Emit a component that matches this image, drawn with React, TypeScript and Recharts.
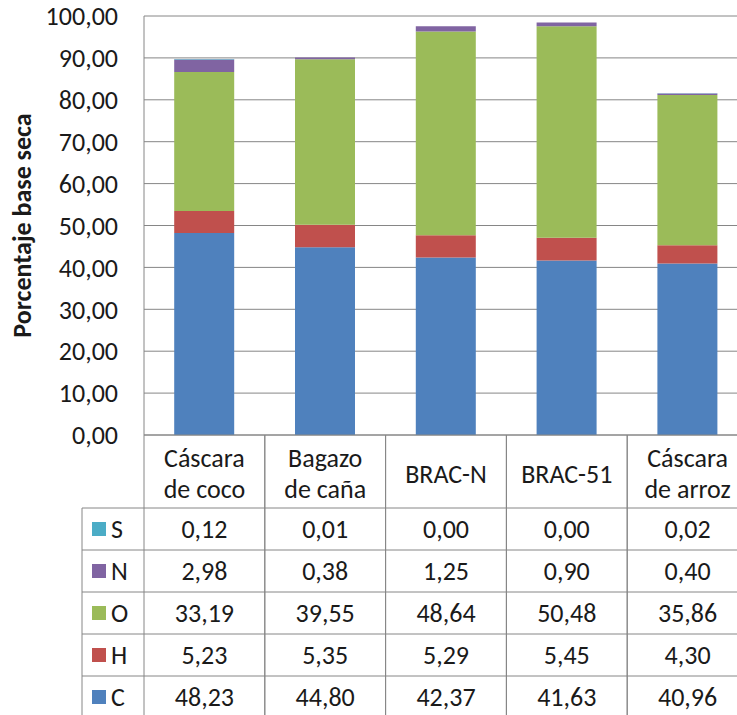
import { BarChart, Bar, XAxis, YAxis, CartesianGrid, Label } from "recharts";

const categories = ["Cáscara de coco", "Bagazo de caña", "BRAC-N", "BRAC-51", "Cáscara de arroz"];

const carbon = [48.23, 44.8, 42.37, 41.63, 40.96];
const hydrogen = [5.23, 5.35, 5.29, 5.45, 4.3];
const oxygen = [33.19, 39.55, 48.64, 50.48, 35.86];
const nitrogen = [2.98, 0.38, 1.25, 0.9, 0.4];
const sulfur = [0.12, 0.01, 0.0, 0.0, 0.02];

const yTicks = [0, 10, 20, 30, 40, 50, 60, 70, 80, 90, 100];

// stack order bottom -> top
const series = [
  { key: "C", values: carbon, color: "#4F81BD" },
  { key: "H", values: hydrogen, color: "#C0504D" },
  { key: "O", values: oxygen, color: "#9BBB59" },
  { key: "N", values: nitrogen, color: "#8064A2" },
  { key: "S", values: sulfur, color: "#4BACC6" },
];

const data = categories.map((name, i) => {
  const row: Record<string, string | number> = { name };
  series.forEach((s) => (row[s.key] = s.values[i]));
  return row;
});

const FONT = "Carlito, Lato, sans-serif";
const FS = 26;
const TEXT = "#1a1a1a";
const LINE = "#868686";

const CHART_W = 760;
const CHART_H = 722;
const PLOT_LEFT = 144;
const PLOT_RIGHT = 12;
const PLOT_TOP = 16;
const PLOT_BOTTOM = 435;
const BAND = (CHART_W - PLOT_LEFT - PLOT_RIGHT) / categories.length;
const HEADER_H = 73;
const ROW_H = 42;
const LEGEND_W = 62;

const fmt = (v: number) => v.toFixed(2).replace(".", ",");

// table rows are listed top-down, the reverse of the stack
const tableRows = [...series].reverse();

function TableColumn(props: any) {
  const { x, index, payload } = props;
  const left = x - BAND / 2;
  const right = x + BAND / 2;
  const tableTop = PLOT_BOTTOM;
  const rowsTop = tableTop + HEADER_H;
  const bottom = rowsTop + ROW_H * tableRows.length + 4;
  const name: string = payload.value;
  const sp = name.indexOf(" ");
  const lines = sp > 0 ? [name.slice(0, sp), name.slice(sp + 1)] : [name];
  const headerMid = tableTop + HEADER_H / 2 + 2;

  return (
    <g fontFamily={FONT} fontSize={FS} fill={TEXT}>
      <line x1={left} x2={left} y1={tableTop} y2={bottom} stroke={LINE} />
      <line x1={right} x2={right} y1={tableTop} y2={bottom} stroke={LINE} />
      {lines.map((ln, k) => (
        <text
          key={k}
          x={x}
          y={headerMid + (k - (lines.length - 1) / 2) * 31}
          textAnchor="middle"
          dominantBaseline="central"
        >
          {ln}
        </text>
      ))}
      {tableRows.map((s, r) => {
        const top = rowsTop + r * ROW_H;
        return (
          <g key={s.key}>
            <line x1={left} x2={right} y1={top} y2={top} stroke={LINE} />
            <text x={x} y={top + ROW_H / 2} textAnchor="middle" dominantBaseline="central">
              {fmt(s.values[index])}
            </text>
          </g>
        );
      })}
      {index === 0 && (
        <g>
          <line x1={left - LEGEND_W} x2={left - LEGEND_W} y1={rowsTop} y2={bottom} stroke={LINE} />
          {tableRows.map((s, r) => {
            const top = rowsTop + r * ROW_H;
            return (
              <g key={s.key}>
                <line x1={left - LEGEND_W} x2={left} y1={top} y2={top} stroke={LINE} />
                <rect x={left - LEGEND_W + 10} y={top + ROW_H / 2 - 7} width={14} height={14} fill={s.color} />
                <text x={left - LEGEND_W + 29} y={top + ROW_H / 2} dominantBaseline="central">
                  {s.key}
                </text>
              </g>
            );
          })}
        </g>
      )}
    </g>
  );
}

function YTitle() {
  const cx = 22;
  const cy = (PLOT_TOP + PLOT_BOTTOM) / 2;
  return (
    <text
      x={cx}
      y={cy}
      transform={`rotate(-90 ${cx} ${cy})`}
      textAnchor="middle"
      dominantBaseline="central"
      fontFamily={FONT}
      fontSize={FS}
      fontWeight="bold"
      fill={TEXT}
    >
      Porcentaje base seca
    </text>
  );
}

export default function App() {
  return (
    <div
      style={{
        position: "fixed",
        left: 0,
        top: 0,
        width: 737,
        height: 715,
        overflow: "hidden",
        background: "#fff",
      }}
    >
      <BarChart
        width={CHART_W}
        height={CHART_H}
        data={data}
        margin={{ top: PLOT_TOP, right: PLOT_RIGHT, left: 0, bottom: 0 }}
        barCategoryGap="25%"
      >
        <CartesianGrid vertical={false} stroke={LINE} strokeWidth={1} />
        <XAxis
          dataKey="name"
          interval={0}
          height={CHART_H - PLOT_BOTTOM}
          axisLine={{ stroke: LINE }}
          tickLine={false}
          tick={(p: any) => <TableColumn {...p} />}
        />
        <YAxis
          width={PLOT_LEFT}
          domain={[0, 100]}
          ticks={yTicks}
          interval={0}
          axisLine={{ stroke: LINE }}
          tickLine={false}
          tickSize={0}
          tickMargin={26}
          tickFormatter={fmt}
          tick={{ fontFamily: FONT, fontSize: FS, fill: TEXT }}
        >
          <Label content={() => <YTitle />} />
        </YAxis>
        {series.map((s) => (
          <Bar key={s.key} dataKey={s.key} stackId="a" fill={s.color} isAnimationActive={false} />
        ))}
      </BarChart>
    </div>
  );
}
